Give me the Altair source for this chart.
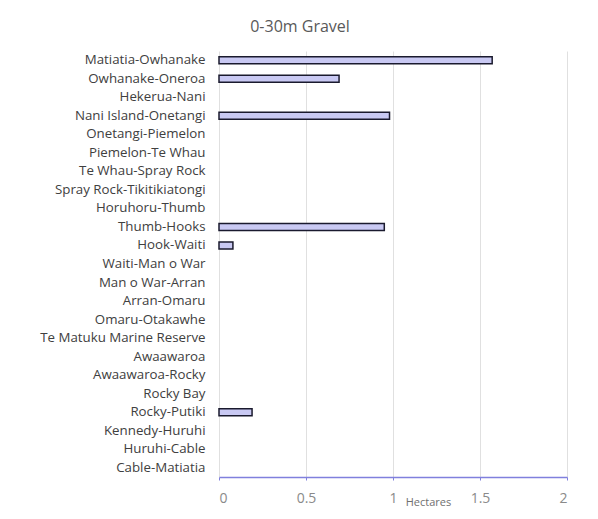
import altair as alt
import pandas as pd

sites = ["Matiatia-Owhanake", "Owhanake-Oneroa", "Hekerua-Nani", "Nani Island-Onetangi",
         "Onetangi-Piemelon", "Piemelon-Te Whau", "Te Whau-Spray Rock",
         "Spray Rock-Tikitikiatongi", "Horuhoru-Thumb", "Thumb-Hooks", "Hook-Waiti",
         "Waiti-Man o War", "Man o War-Arran", "Arran-Omaru", "Omaru-Otakawhe",
         "Te Matuku Marine Reserve", "Awaawaroa", "Awaawaroa-Rocky", "Rocky Bay",
         "Rocky-Putiki", "Kennedy-Huruhi", "Huruhi-Cable", "Cable-Matiatia"]
hectares = [1.57, 0.69, 0, 0.98, 0, 0, 0, 0, 0, 0.95, 0.08, 0, 0, 0, 0, 0, 0, 0, 0,
            0.19, 0, 0, 0]

df = pd.DataFrame({"site": sites, "ha": hectares})

font = "Open Sans"

chart = alt.Chart(df).mark_bar(
    size=7, fill="#c9c9f3", strokeWidth=1.5
).encode(
    y=alt.Y("site:N", sort=sites, title=None,
            axis=alt.Axis(ticks=False, domain=False, labelFont=font, labelFontSize=13.3,
                          labelColor="#404040", labelPadding=14, labelLimit=300)),
    x=alt.X("ha:Q", scale=alt.Scale(domain=[0, 2]), title="Hectares",
            axis=alt.Axis(values=[0, 0.5, 1, 1.5, 2], labelExpr="datum.value == 0 ? '0' : format(datum.value, '')",
                          grid=True, gridColor="#e0e0e0", domainColor="#8080dd",
                          domainWidth=1.5, tickColor="#8080dd", tickSize=3,
                          labelFont=font, labelFontSize=14, labelColor="#8a8a8a",
                          labelPadding=11, titleFont=font, titleFontSize=11,
                          titleFontWeight="normal", titleColor="#707070",
                          titleX=209, titleY=19, titleAlign="center")),
    stroke=alt.condition(alt.datum.ha > 0, alt.value("#1a1a2e"), alt.value(None)),
    opacity=alt.condition(alt.datum.ha > 0, alt.value(1), alt.value(0)),
).properties(
    width=348, height=426,
    title=alt.TitleParams("0-30m Gravel", font=font, fontSize=16, fontWeight="normal",
                          color="#595959", anchor="middle", dx=-93, offset=16),
    autosize=alt.AutoSizeParams(type="none"),
    padding={"left": 211, "top": 43, "right": 23, "bottom": 34}
).configure_view(stroke=None)

chart.save("out.html", embed_options={"renderer": "svg", "actions": False})
